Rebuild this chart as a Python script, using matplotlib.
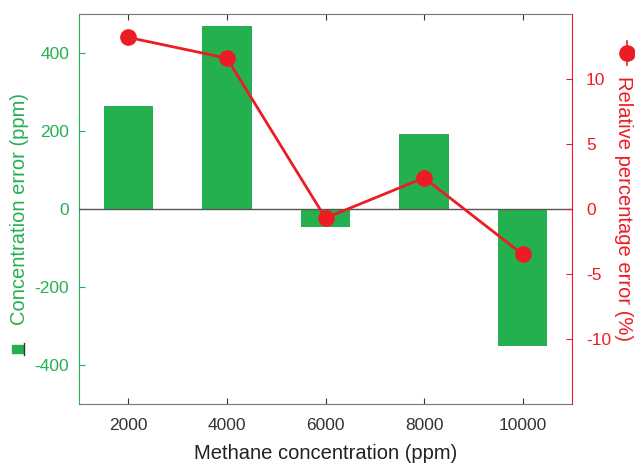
import matplotlib
matplotlib.use("Agg")
import matplotlib.pyplot as plt
from matplotlib.patches import Rectangle
from matplotlib.lines import Line2D

plt.rcParams['font.family'] = ['Liberation Sans', 'DejaVu Sans']
plt.rcParams['axes.unicode_minus'] = False

concentration = [2000, 4000, 6000, 8000, 10000]
conc_error = [264, 469, -46, 192, -351]
rel_error = [13.2, 11.6, -0.7, 2.4, -3.5]

green = '#25B050'
red = '#ED1C24'
gray = '#555555'

fig = plt.figure(figsize=(6.35, 4.65), dpi=100)
ax = fig.add_axes([79/635, 1 - 404/465, (572-79)/635, (404-14)/465])
ax.bar(concentration, conc_error, width=1000, color=green, zorder=2)
ax.axhline(0, color=gray, lw=1.0, zorder=3)
ax.set_xlim(1000, 11000)
ax.set_ylim(-500, 500)
ax.set_yticks([-400, -200, 0, 200, 400])
ax.set_xticks(concentration)
ax.tick_params(axis='x', direction='in', top=True, colors='#333333', labelsize=12.5, length=4, pad=10)
ax.tick_params(axis='y', direction='in', colors=green, labelcolor=green, labelsize=12.5, length=4, pad=7)
ax.spines['left'].set_color(green)
ax.spines['top'].set_color('#777777')
ax.spines['bottom'].set_color('#777777')
ax.spines['right'].set_visible(False)
ax.set_xlabel('Methane concentration (ppm)', fontsize=14.5, color='#222222', labelpad=8)
ax.set_ylabel('Concentration error (ppm)', fontsize=14.5, color=green, labelpad=4)

ax2 = ax.twinx()
ax2.plot(concentration, rel_error, color=red, lw=2, marker='o', markersize=11, zorder=4)
ax2.set_ylim(-15, 15)
ax2.set_yticks([-10, -5, 0, 5, 10])
ax2.tick_params(axis='y', direction='in', colors=red, labelcolor=red, labelsize=12.5, length=4, pad=10)
for s in ['left', 'top', 'bottom']:
    ax2.spines[s].set_visible(False)
ax2.spines['right'].set_color(red)
ax2.set_ylabel('Relative percentage error (%)', fontsize=14.5, color=red, rotation=-90, labelpad=16)

# legend-like glyphs beside the axis labels
fig.patches.append(Rectangle((12/635, 1 - 353/465), 11/635, 8/465, color=green, transform=fig.transFigure, figure=fig))
fig.lines.append(Line2D([24/635, 24/635], [1 - 355/465, 1 - 343/465], color='#333333', lw=1, transform=fig.transFigure, figure=fig))
fig.lines.append(Line2D([627/635, 627/635], [1 - 41/465, 1 - 65/465], color=red, lw=1.2, transform=fig.transFigure, figure=fig))
fig.lines.append(Line2D([627/635], [1 - 53/465], color=red, marker='o', markersize=11, transform=fig.transFigure, figure=fig))

fig.savefig('out.png', dpi=100)
